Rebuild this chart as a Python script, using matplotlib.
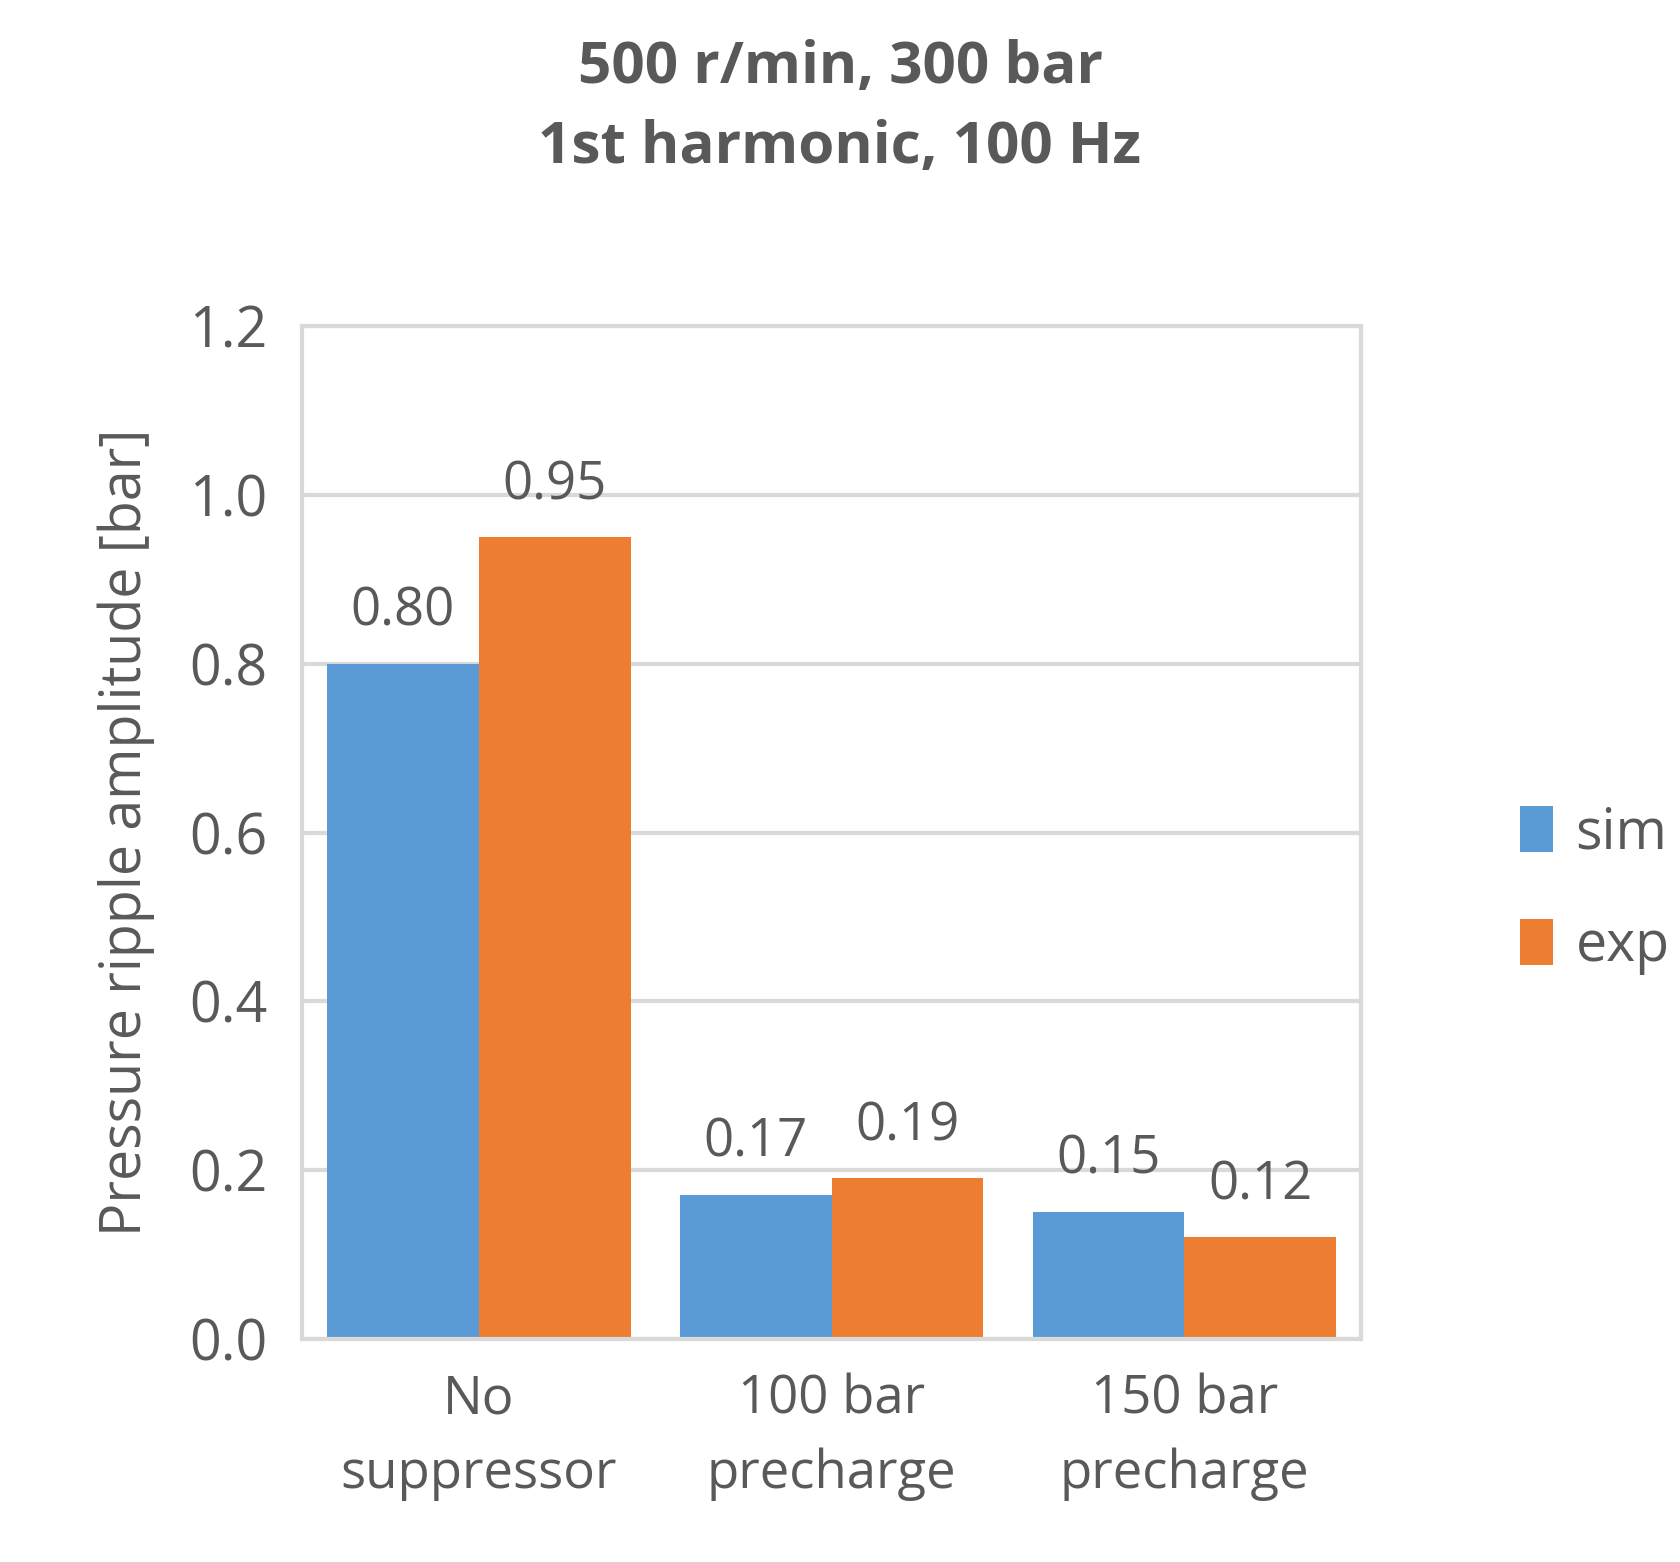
import matplotlib
matplotlib.use("Agg")
import matplotlib.pyplot as plt
import numpy as np

categories = ["No\nsuppressor", "100 bar\nprecharge", "150 bar\nprecharge"]
sim = [0.80, 0.17, 0.15]
exp = [0.95, 0.19, 0.12]
sim_labels = ["0.80", "0.17", "0.15"]
exp_labels = ["0.95", "0.19", "0.12"]
yticks = [0.0, 0.2, 0.4, 0.6, 0.8, 1.0, 1.2]

plt.rcParams['font.family'] = ['Open Sans', 'DejaVu Sans']
gray = '#595959'
fig = plt.figure(figsize=(16.8, 15.62), dpi=100)
ax = fig.add_axes([0.18, 0.143, 0.63, 0.648])
x = np.arange(len(categories))
w = 0.43
b1 = ax.bar(x - w/2, sim, w, color='#5B9BD5', label='sim')
b2 = ax.bar(x + w/2, exp, w, color='#ED7D31', label='exp')
for bars, labs in ((b1, sim_labels), (b2, exp_labels)):
    for r, l in zip(bars, labs):
        ax.text(r.get_x() + r.get_width()/2, r.get_height() + 0.03, l,
                ha='center', va='bottom', fontsize=38, color=gray)
ax.set_xlim(-0.5, 2.5)
ax.set_ylim(0, 1.2)
ax.set_yticks(yticks)
ax.set_yticklabels([f"{t:.1f}" for t in yticks], fontsize=40, color=gray)
ax.set_xticks(x)
ax.set_xticklabels(categories, fontsize=38, color=gray, linespacing=1.5)
ax.tick_params(length=0, pad=25)
ax.grid(axis='y', color='#D9D9D9', linewidth=3)
ax.set_axisbelow(True)
for s in ax.spines.values():
    s.set_color('#D9D9D9'); s.set_linewidth(3)
ax.set_ylabel("Pressure ripple amplitude [bar]", fontsize=40, color=gray, labelpad=25)
fig.suptitle("500 r/min, 300 bar\n1st harmonic, 100 Hz", fontsize=42, fontweight='bold',
             color=gray, y=0.975, linespacing=1.5)
fig.legend(loc='center left', bbox_to_anchor=(0.875, 0.43), frameon=False, fontsize=40,
           labelcolor=gray, handlelength=0.6, handleheight=0.9, handletextpad=0.4, labelspacing=1.0)
fig.savefig("out.png", dpi=100)
